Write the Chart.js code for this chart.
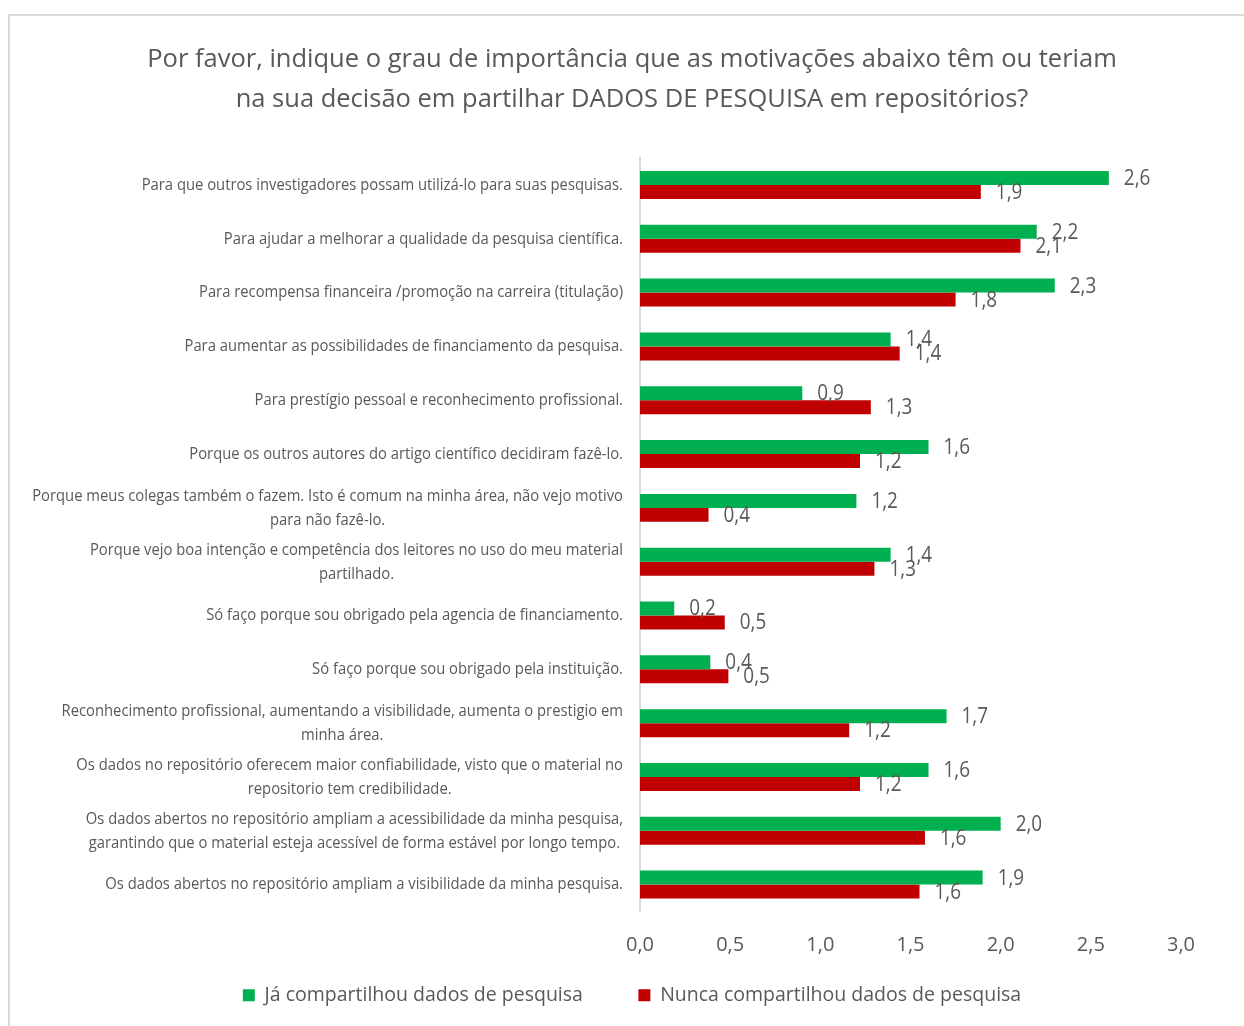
<!DOCTYPE html>
<html>
<head>
<meta charset="utf-8">
<script src="https://cdn.jsdelivr.net/npm/chart.js@4"></script>
<style>
  html, body { margin: 0; padding: 0; background: #fff; overflow: hidden; }
  #frame {
    position: absolute; left: 8px; top: 14px; width: 1400px; height: 1100px;
    border-left: 2px solid #d9d9d9; border-top: 2px solid #d9d9d9;
  }
  #wrap { position: absolute; left: 0; top: 0; width: 1244px; height: 1026px; }
</style>
</head>
<body>
<div id="frame"></div>
<div id="wrap"><canvas id="chart"></canvas></div>
<script>
const FONT = "'Open Sans', sans-serif";
const TXT = '#595959';

const motivos = [
  ['Para que outros investigadores possam utilizá-lo para suas pesquisas.'],
  ['Para ajudar a melhorar a qualidade da pesquisa científica.'],
  ['Para recompensa financeira /promoção na carreira (titulação)'],
  ['Para aumentar as possibilidades de financiamento da pesquisa.'],
  ['Para prestígio pessoal e reconhecimento profissional.'],
  ['Porque os outros autores do artigo científico decidiram fazê-lo.'],
  ['Porque meus colegas também o fazem. Isto é comum na minha área, não vejo motivo', 'para não fazê-lo.'],
  ['Porque vejo boa intenção e competência dos leitores no uso do meu material', 'partilhado.'],
  ['Só faço porque sou obrigado pela agencia de financiamento.'],
  ['Só faço porque sou obrigado pela instituição.'],
  ['Reconhecimento profissional, aumentando a visibilidade, aumenta o prestigio em', 'minha área.'],
  ['Os dados no repositório oferecem maior confiabilidade, visto que o material no', 'repositorio tem credibilidade.'],
  ['Os dados abertos no repositório ampliam a acessibilidade da minha pesquisa,', 'garantindo que o material esteja acessível de forma estável por longo tempo.'],
  ['Os dados abertos no repositório ampliam a visibilidade da minha pesquisa.']
];

const jaCompartilhou = [2.6, 2.2, 2.3, 1.39, 0.9, 1.6, 1.2, 1.39, 0.19, 0.39, 1.7, 1.6, 2.0, 1.9];
const nuncaCompartilhou = [1.89, 2.11, 1.75, 1.44, 1.28, 1.22, 0.38, 1.3, 0.47, 0.49, 1.16, 1.22, 1.58, 1.55];

const tituloLinhas = [
  'Por favor, indique o grau de importância que as motivações abaixo têm ou teriam',
  'na sua decisão em partilhar DADOS DE PESQUISA em repositórios?'
];

const fmt = v => v.toFixed(1).replace('.', ',');

// rótulos de valor ao lado de cada barra
const valueLabels = {
  id: 'valueLabels',
  afterDatasetsDraw(chart) {
    const ctx = chart.ctx;
    ctx.save();
    ctx.font = '21px ' + FONT;
    ctx.fillStyle = TXT;
    ctx.textAlign = 'left';
    ctx.textBaseline = 'middle';
    chart.data.datasets.forEach((ds, i) => {
      chart.getDatasetMeta(i).data.forEach((bar, j) => {
        ctx.save();
        ctx.translate(bar.x + 15, bar.y + 1);
        ctx.scale(0.9, 1);
        ctx.fillText(fmt(ds.data[j]), 0, 0);
        ctx.restore();
      });
    });
    ctx.restore();
  }
};

// rótulos das categorias: linhas centradas entre si, bloco alinhado à direita
const categoryLabels = {
  id: 'categoryLabels',
  afterDraw(chart) {
    const ctx = chart.ctx;
    const y = chart.scales.y;
    const right = chart.chartArea.left - 17;
    const lh = 24;
    ctx.save();
    ctx.font = '17px ' + FONT;
    ctx.fillStyle = TXT;
    ctx.textBaseline = 'middle';
    ctx.textAlign = 'center';
    ctx.translate(right, 0);
    ctx.scale(0.87, 1);
    chart.data.labels.forEach((lines, i) => {
      const cy = y.getPixelForTick(i);
      const w = Math.max(...lines.map(l => ctx.measureText(l).width));
      const y0 = cy - (lines.length - 1) * lh / 2;
      lines.forEach((l, k) => ctx.fillText(l, -w / 2, y0 + k * lh));
    });
    ctx.restore();
  }
};

new Chart(document.getElementById('chart'), {
  type: 'bar',
  data: {
    labels: motivos,
    datasets: [
      {
        label: 'Já compartilhou dados de pesquisa',
        data: jaCompartilhou,
        backgroundColor: '#00B050',
        categoryPercentage: 0.52,
        barPercentage: 1.0
      },
      {
        label: 'Nunca compartilhou dados de pesquisa',
        data: nuncaCompartilhou,
        backgroundColor: '#C00000',
        categoryPercentage: 0.52,
        barPercentage: 1.0
      }
    ]
  },
  options: {
    indexAxis: 'y',
    responsive: true,
    maintainAspectRatio: false,
    animation: false,
    layout: { padding: { left: 20, right: 0, top: 0, bottom: 11 } },
    scales: {
      x: {
        min: 0,
        max: 3,
        grid: { display: false, drawTicks: false },
        border: { display: false },
        ticks: {
          stepSize: 0.5,
          padding: 22,
          color: TXT,
          font: { family: FONT, size: 20 },
          callback: v => fmt(v)
        },
        afterFit: s => { s.height = 54; }
      },
      y: {
        grid: { display: false, drawTicks: false },
        border: { display: true, color: '#d9d9d9', width: 2 },
        ticks: { display: false },
        afterFit: s => { s.width = 620; }
      },
      // espaço vazio à direita do gráfico
      y2: {
        type: 'linear',
        position: 'right',
        grid: { display: false, drawTicks: false },
        border: { display: false },
        ticks: { display: false },
        afterFit: s => { s.width = 63; }
      }
    },
    plugins: {
      title: {
        display: true,
        text: tituloLinhas,
        color: TXT,
        font: { family: FONT, size: 25.5, weight: 'normal', lineHeight: 1.57 },
        padding: { top: 40, bottom: 38 }
      },
      legend: {
        position: 'bottom',
        labels: {
          color: TXT,
          font: { family: FONT, size: 19.5 },
          boxWidth: 12,
          boxHeight: 12,
          padding: 20,
          generateLabels(chart) {
            const items = Chart.defaults.plugins.legend.labels.generateLabels(chart);
            // afastar os dois itens como no original
            items[0].text += '       ';
            return items;
          }
        }
      },
      tooltip: { enabled: false }
    }
  },
  plugins: [valueLabels, categoryLabels]
});
</script>
</body>
</html>
